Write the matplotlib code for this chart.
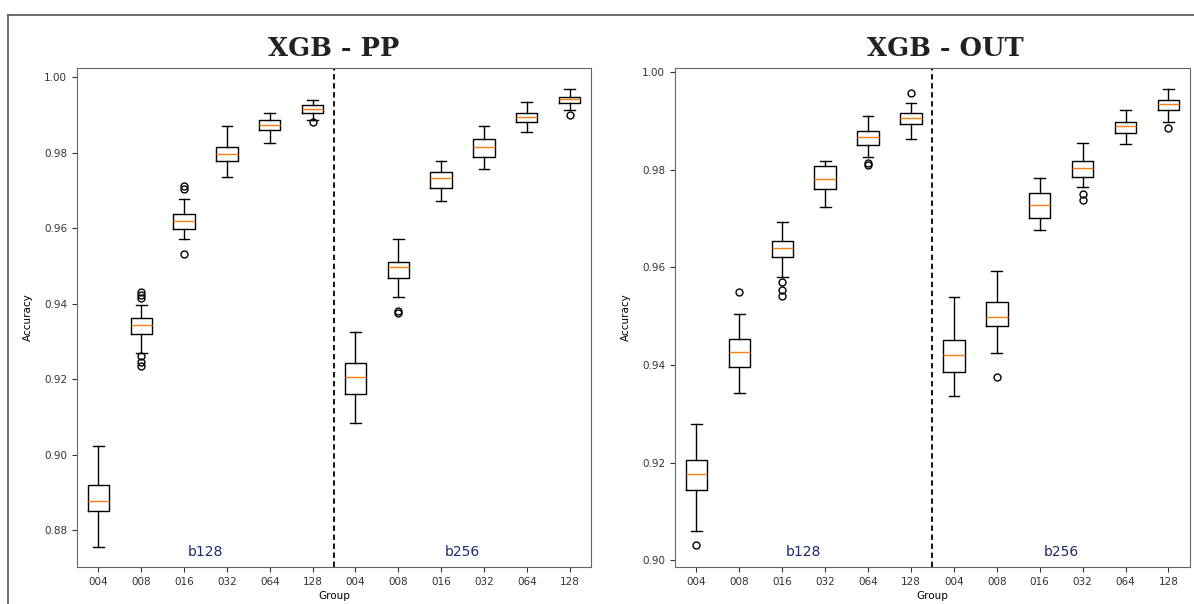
import matplotlib
matplotlib.use("Agg")
import matplotlib.pyplot as plt
from matplotlib.lines import Line2D

# group tick labels, repeated for the b128 and b256 halves
groups = ["004", "008", "016", "032", "064", "128"]
tick_labels = groups + groups
block_names = ["b128", "b256"]

# XGB - PP : whisker low, Q1, median, Q3, whisker high, outliers
pp_whislo = [0.8757, 0.9269, 0.9571, 0.9735, 0.9825, 0.9886,
             0.9083, 0.9417, 0.9671, 0.9756, 0.9854, 0.9913]
pp_q1 = [0.8850, 0.9319, 0.9597, 0.9777, 0.9860, 0.9905,
         0.9160, 0.9467, 0.9706, 0.9788, 0.9881, 0.9931]
pp_med = [0.8879, 0.9343, 0.9618, 0.9796, 0.9873, 0.9915,
          0.9205, 0.9497, 0.9732, 0.9815, 0.9894, 0.9942]
pp_q3 = [0.8921, 0.9361, 0.9637, 0.9815, 0.9886, 0.9926,
         0.9242, 0.9510, 0.9748, 0.9836, 0.9905, 0.9947]
pp_whishi = [0.9022, 0.9396, 0.9677, 0.9870, 0.9905, 0.9939,
             0.9324, 0.9571, 0.9777, 0.9870, 0.9934, 0.9968]
pp_fliers = [[], [0.9430, 0.9422, 0.9414, 0.9261, 0.9247, 0.9234],
             [0.9712, 0.9704, 0.9531], [], [], [0.9880],
             [], [0.9380, 0.9375], [], [], [], [0.9899]]

# XGB - OUT
out_whislo = [0.9059, 0.9342, 0.9580, 0.9723, 0.9826, 0.9863,
              0.9336, 0.9424, 0.9676, 0.9764, 0.9852, 0.9898]
out_q1 = [0.9144, 0.9396, 0.9621, 0.9760, 0.9851, 0.9893,
          0.9385, 0.9480, 0.9701, 0.9785, 0.9875, 0.9922]
out_med = [0.9176, 0.9426, 0.9639, 0.9781, 0.9867, 0.9906,
           0.9420, 0.9498, 0.9727, 0.9803, 0.9889, 0.9934]
out_q3 = [0.9205, 0.9453, 0.9654, 0.9807, 0.9879, 0.9916,
          0.9451, 0.9529, 0.9752, 0.9818, 0.9898, 0.9943]
out_whishi = [0.9279, 0.9504, 0.9693, 0.9818, 0.9910, 0.9936,
              0.9539, 0.9592, 0.9783, 0.9855, 0.9922, 0.9965]
out_fliers = [[0.9031], [0.9549], [0.9570, 0.9553, 0.9541], [],
              [0.9814, 0.9810], [0.9957],
              [], [0.9375], [], [0.9750, 0.9738], [], [0.9885]]


def make_stats(lo, q1, med, q3, hi, fl):
    return [dict(whislo=a, q1=b, med=c, q3=d, whishi=e, fliers=f)
            for a, b, c, d, e, f in zip(lo, q1, med, q3, hi, fl)]


panels = [
    ("XGB - PP", make_stats(pp_whislo, pp_q1, pp_med, pp_q3, pp_whishi, pp_fliers),
     (0.8703, 1.0024), [0.88, 0.90, 0.92, 0.94, 0.96, 0.98, 1.00], 0.5),
    ("XGB - OUT", make_stats(out_whislo, out_q1, out_med, out_q3, out_whishi, out_fliers),
     (0.8986, 1.0008), [0.90, 0.92, 0.94, 0.96, 0.98, 1.00], 0.525),
]

fig = plt.figure(figsize=(11.94, 6.04), dpi=100)
fig.patch.set_facecolor("white")

# thin frame along the top and left of the figure
fig.add_artist(Line2D([8 / 1194, 1.0], [1 - 15 / 604] * 2, color="#555555", lw=1.2))
fig.add_artist(Line2D([8 / 1194] * 2, [0.0, 1 - 15 / 604], color="#555555", lw=1.2))

axes_pos = [[0.0645, 0.0613, 0.4305, 0.826], [0.5653, 0.0613, 0.4313, 0.826]]

for pos, (title, stats, ylim, yticks, tx) in zip(axes_pos, panels):
    ax = fig.add_axes(pos)
    positions = list(range(1, len(stats) + 1))
    ax.bxp(stats, positions=positions, widths=0.5,
           flierprops=dict(marker="o", markersize=5, markerfacecolor="none",
                           markeredgecolor="black", markeredgewidth=1.0),
           medianprops=dict(color="#ff7f0e", lw=1.0))
    ax.axvline(6.5, color="black", lw=1.3, ls=(0, (3, 2)))
    ax.set_xlim(0.5, 12.5)
    ax.set_ylim(*ylim)
    ax.set_yticks(yticks)
    ax.set_xticks(positions)
    ax.set_xticklabels(tick_labels)
    ax.tick_params(labelsize=7.5, length=3.5, colors="#333333")
    ax.set_xlabel("Group", fontsize=7.5, labelpad=3)
    ax.set_ylabel("Accuracy", fontsize=7.5, labelpad=8)
    for s in ax.spines.values():
        s.set_color("#666666")
    for cx, name in zip([3.5, 9.5], block_names):
        ax.text(cx, 0.015, name, transform=ax.get_xaxis_transform(),
                ha="center", va="bottom", fontsize=10, color="#1c2a6e")
    ax.set_title(title, fontsize=18.5, fontweight="bold", family="DejaVu Serif",
                 pad=9, x=tx, color="#222222")

fig.savefig("out.png", dpi=100, facecolor="white")
